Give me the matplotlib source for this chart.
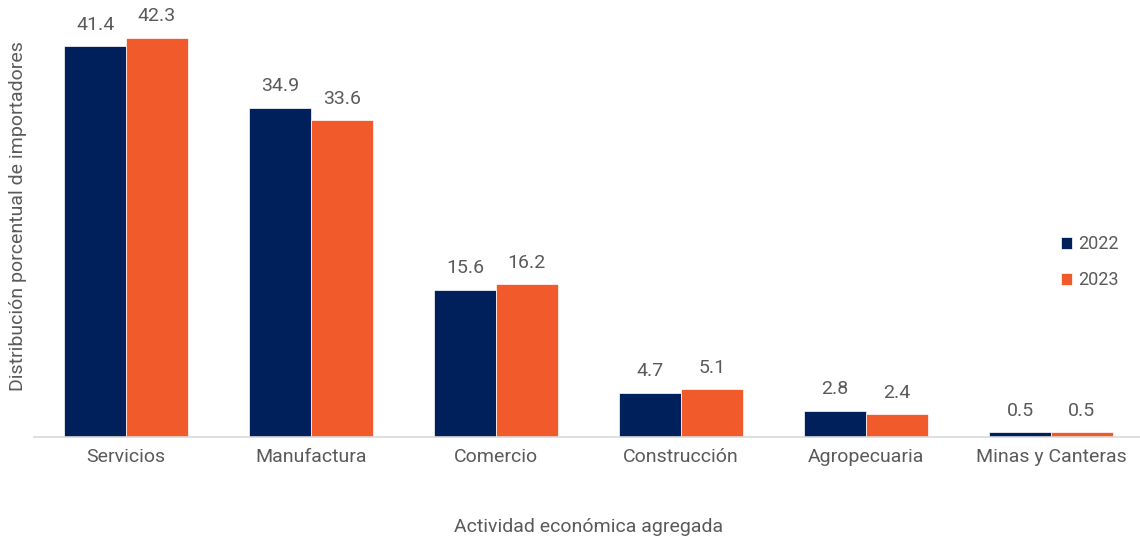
import numpy as np
import matplotlib.pyplot as plt

categories = ["Servicios", "Manufactura", "Comercio", "Construcción", "Agropecuaria", "Minas y Canteras"]
values_2022 = [41.4, 34.9, 15.6, 4.7, 2.8, 0.5]
values_2023 = [42.3, 33.6, 16.2, 5.1, 2.4, 0.5]

plt.rcParams["font.family"] = ["Roboto", "DejaVu Sans"]

navy = "#00205b"
orange = "#f15a2b"
text_color = "#5a5a5a"
fs = 14

fig = plt.figure(figsize=(11.4, 5.39), dpi=100)
ax = fig.add_axes([33.5 / 1140, 102 / 539, 1110 / 1140, 437 / 539])

x = np.arange(len(categories))
w = 0.333
b1 = ax.bar(x - w / 2, values_2022, w, color=navy, label="2022", edgecolor="white", linewidth=0.5)
b2 = ax.bar(x + w / 2, values_2023, w, color=orange, label="2023", edgecolor="white", linewidth=0.5)

# etiquetas de valor sobre cada barra
for bars, vals in [(b1, values_2022), (b2, values_2023)]:
    for bar, v in zip(bars, vals):
        ax.text(bar.get_x() + bar.get_width() / 2, v + 1.3, f"{v:.1f}",
                ha="center", va="bottom", fontsize=fs, color=text_color)

ax.set_xlim(-0.5, 5.5)
ax.set_ylim(0, 46.3)
ax.set_xticks(x)
ax.set_xticklabels(categories, fontsize=fs, color=text_color)
ax.tick_params(axis="x", length=0, pad=8)
ax.set_yticks([])
for s in ["top", "right", "left"]:
    ax.spines[s].set_visible(False)
ax.spines["bottom"].set_color("#d9d9d9")
ax.spines["bottom"].set_linewidth(1.2)

ax.set_xlabel("Actividad económica agregada", fontsize=fs, color=text_color, labelpad=37)
fig.text(18 / 1140, 1 - 216 / 539, "Distribución porcentual de importadores", rotation=90,
         ha="center", va="center", fontsize=fs, color=text_color)

leg = ax.legend(loc="center left", bbox_to_anchor=(0.911, 0.40),
                frameon=False, fontsize=13, handlelength=0.6, handleheight=0.6,
                handletextpad=0.35, labelspacing=1.0)
for t in leg.get_texts():
    t.set_color(text_color)

fig.savefig("out.png", dpi=100)
